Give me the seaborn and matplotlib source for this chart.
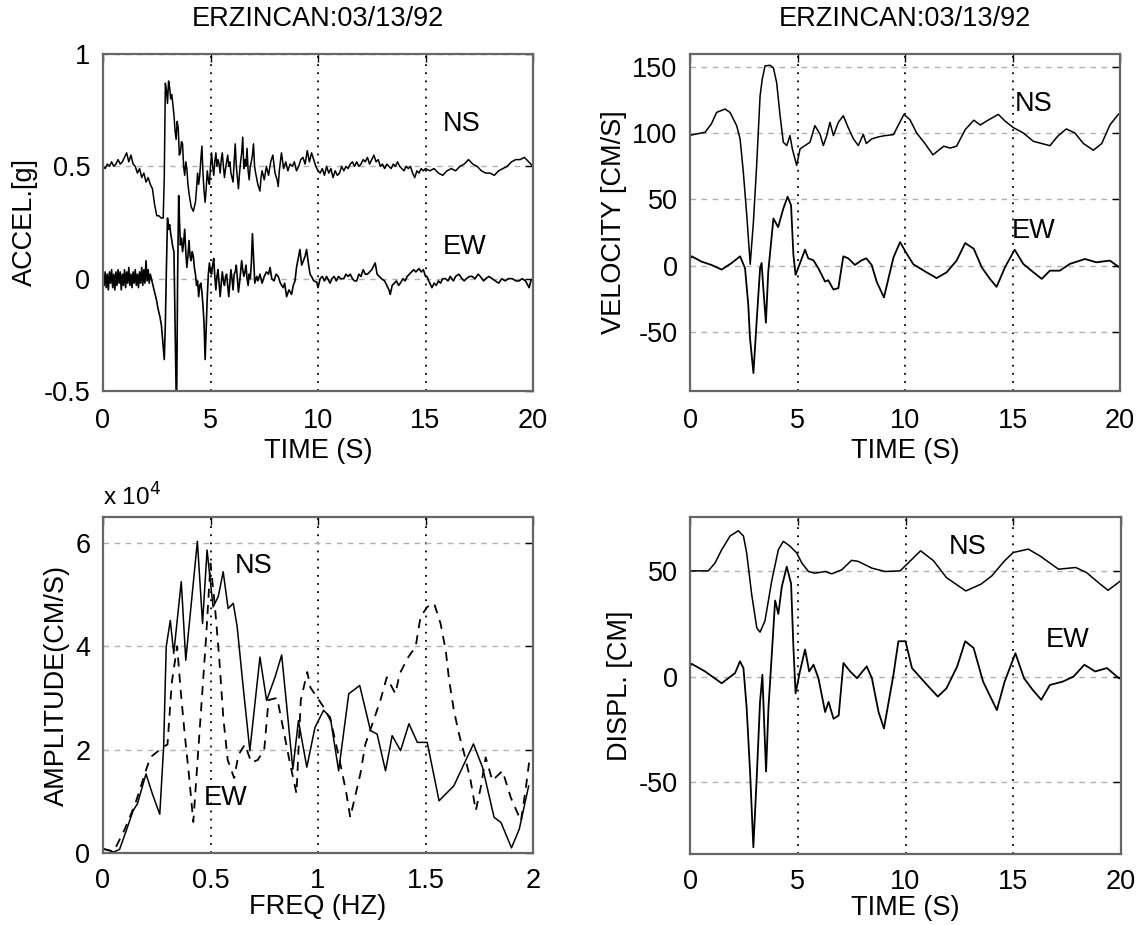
import numpy as np
import pandas as pd
import matplotlib
matplotlib.use("Agg")
import matplotlib.pyplot as plt
import seaborn as sns

# ---------------- data ----------------
title_text = "ERZINCAN:03/13/92"

# Acceleration (g) ; NS trace plotted with +0.5 offset
acc_ns_t = [0.0,0.1,0.2,0.3,0.4,0.5,0.6,0.7,0.8,0.9,1.0,1.1,1.2,1.3,1.4,1.5,1.6,1.7,1.8,1.9,2.0,2.1,2.2,2.3,2.4,2.5,2.6,2.7,2.8,
            2.85,2.9,2.95,3.0,3.05,3.1,3.15,3.2,3.3,3.35,3.4,3.45,3.5,3.55,3.6,3.65,3.7,3.75,3.8,3.85,3.9,3.95,4.0,4.1,4.2,4.3,4.35,4.4,4.45,4.5,4.55,4.6,4.65,4.7,4.75,4.8,4.85,4.9,4.95,
            5.0,5.05,5.1,5.15,5.2,5.25,5.3,5.35,5.4,5.45,5.5,5.55,5.6,5.65,5.7,5.75,5.8,5.85,5.9,5.95,6.0,6.05,6.1,6.15,6.2,6.25,6.3,6.35,6.4,6.45,6.5,6.55,6.6,6.65,6.7,6.75,6.8,6.85,6.9,6.95,
            7.0,7.05,7.1,7.2,7.3,7.35,7.4,7.5,7.6,7.7,7.8,7.9,8.0,8.1,8.15,8.2,8.3,8.4,8.5,8.6,8.7,8.8,8.9,9.0,9.1,9.2,9.3,9.4,9.5,9.6,9.7,9.8,9.9,
            10.0,10.1,10.2,10.3,10.4,10.5,10.6,10.7,10.8,10.9,11.0,11.1,11.2,11.3,11.4,11.5,11.6,11.7,11.8,11.9,12.0,12.1,12.2,12.3,12.4,12.5,12.6,12.7,12.8,12.9,
            13.0,13.1,13.2,13.3,13.4,13.5,13.6,13.7,13.8,13.9,14.0,14.1,14.2,14.3,14.4,14.5,14.6,14.7,14.8,14.9,15.0,15.2,15.4,15.6,15.8,16.0,16.2,16.4,16.6,16.8,
            17.0,17.2,17.4,17.6,17.8,18.0,18.2,18.4,18.6,18.8,19.0,19.2,19.4,19.6,19.8,20.0]
acc_ns_v = [0.50,0.49,0.51,0.50,0.52,0.50,0.51,0.53,0.51,0.52,0.54,0.56,0.52,0.55,0.51,0.50,0.47,0.49,0.45,0.47,0.43,0.45,0.42,0.40,0.33,0.28,0.28,0.27,0.27,
            0.45,0.87,0.84,0.78,0.88,0.85,0.80,0.82,0.73,0.66,0.62,0.70,0.67,0.55,0.56,0.61,0.60,0.50,0.46,0.52,0.49,0.42,0.38,0.32,0.30,0.34,0.40,0.47,0.42,0.46,0.53,0.59,0.47,0.39,0.34,0.40,0.48,0.44,0.42,
            0.50,0.56,0.50,0.46,0.52,0.56,0.50,0.53,0.51,0.47,0.53,0.56,0.50,0.45,0.49,0.52,0.55,0.50,0.52,0.47,0.45,0.43,0.52,0.60,0.50,0.45,0.40,0.47,0.52,0.56,0.63,0.49,0.53,0.50,0.58,0.48,0.44,0.50,0.52,0.55,
            0.60,0.50,0.47,0.42,0.39,0.45,0.48,0.44,0.50,0.46,0.52,0.55,0.47,0.44,0.41,0.48,0.56,0.49,0.52,0.48,0.51,0.50,0.52,0.48,0.50,0.53,0.54,0.51,0.57,0.52,0.56,0.53,0.50,
            0.48,0.47,0.49,0.46,0.50,0.47,0.49,0.45,0.48,0.46,0.47,0.50,0.48,0.50,0.49,0.51,0.52,0.50,0.52,0.50,0.51,0.53,0.52,0.54,0.51,0.53,0.55,0.52,0.53,0.50,
            0.51,0.49,0.51,0.50,0.49,0.51,0.50,0.52,0.50,0.49,0.48,0.50,0.49,0.50,0.47,0.45,0.48,0.47,0.49,0.48,0.49,0.48,0.49,0.47,0.46,0.48,0.49,0.48,0.50,0.51,
            0.53,0.51,0.50,0.48,0.47,0.47,0.46,0.48,0.49,0.50,0.52,0.53,0.53,0.54,0.52,0.50]

acc_ew_t = [0.0,0.05,0.1,0.15,0.2,0.25,0.3,0.35,0.4,0.45,0.5,0.55,0.6,0.65,0.7,0.75,0.8,0.85,0.9,0.95,1.0,1.05,1.1,1.15,1.2,1.25,1.3,1.35,1.4,1.45,1.5,1.55,1.6,1.65,1.7,1.75,1.8,1.85,1.9,1.95,2.0,2.05,2.1,2.15,2.2,
            2.3,2.4,2.5,2.55,2.6,2.65,2.72,2.8,2.85,2.9,2.95,3.0,3.05,3.1,3.15,3.2,3.25,3.3,3.35,3.42,3.47,3.52,3.56,3.6,3.65,3.7,3.75,3.8,3.85,3.9,3.95,4.0,4.05,4.1,4.15,4.2,4.25,4.3,4.35,4.4,4.45,4.5,4.55,4.6,4.65,4.7,4.75,4.8,4.85,4.9,4.95,
            5.0,5.05,5.1,5.15,5.2,5.25,5.3,5.35,5.4,5.45,5.5,5.55,5.6,5.65,5.7,5.75,5.8,5.85,5.9,5.95,6.0,6.05,6.1,6.15,6.2,6.25,6.3,6.35,6.4,6.45,6.5,6.55,6.6,6.65,6.7,6.75,6.8,6.85,6.9,6.95,
            7.0,7.06,7.15,7.2,7.3,7.4,7.5,7.6,7.7,7.77,7.85,7.95,8.05,8.15,8.25,8.38,8.45,8.54,8.65,8.77,8.85,8.93,9.0,9.08,9.16,9.24,9.32,9.4,9.47,9.55,9.63,9.7,9.8,9.94,
            10.0,10.1,10.2,10.3,10.4,10.56,10.65,10.75,10.85,10.95,11.05,11.2,11.3,11.4,11.5,11.6,11.7,11.8,11.9,12.0,12.1,12.2,12.3,12.4,12.5,12.66,12.75,12.85,12.95,
            13.1,13.2,13.3,13.36,13.45,13.55,13.65,13.75,13.83,13.95,14.05,14.15,14.25,14.35,14.45,14.55,14.7,14.8,14.9,15.0,15.07,15.15,15.3,15.4,15.5,15.6,15.7,15.8,15.93,
            16.05,16.15,16.3,16.4,16.55,16.7,16.8,16.9,17.05,17.17,17.3,17.45,17.55,17.7,17.8,17.95,18.1,18.25,18.4,18.55,18.7,18.85,19.04,19.2,19.35,19.5,19.65,19.82,19.9,20.0]
acc_ew_v = [0.00,-0.03,0.03,-0.04,0.02,-0.05,0.03,-0.02,0.04,-0.04,0.02,-0.05,0.03,-0.03,0.04,-0.02,0.03,-0.05,0.02,-0.03,0.04,-0.04,0.03,-0.02,0.05,-0.03,0.02,-0.04,0.03,-0.02,0.04,-0.03,0.02,-0.04,0.03,-0.02,0.05,-0.03,0.04,-0.02,0.08,-0.01,0.04,-0.02,0.02,
            -0.02,-0.06,-0.10,-0.13,-0.15,-0.17,-0.21,-0.30,-0.36,-0.20,0.05,0.27,0.22,0.24,0.20,0.17,0.14,0.12,-0.20,-0.62,0.00,0.37,0.25,0.15,0.18,0.12,0.16,0.22,0.12,0.05,0.10,0.17,0.10,0.08,0.12,0.10,0.05,0.02,-0.03,-0.01,-0.08,-0.03,-0.02,-0.06,-0.12,-0.20,-0.36,-0.22,-0.08,0.02,0.07,
            0.03,0.02,0.06,0.09,0.01,-0.05,0.01,0.04,-0.02,-0.08,-0.02,0.03,-0.01,-0.03,0.01,0.02,-0.03,-0.08,-0.02,0.04,0.00,-0.05,0.02,0.03,0.06,0.00,-0.06,-0.02,0.03,0.08,0.04,0.01,0.03,0.06,0.00,-0.03,0.02,0.00,0.07,0.20,
            0.10,-0.02,0.01,-0.01,0.02,-0.02,0.01,0.03,0.02,0.05,0.00,-0.01,0.02,0.01,-0.02,-0.04,-0.02,-0.08,-0.05,-0.07,-0.03,-0.01,0.05,0.09,0.13,0.06,0.08,0.10,0.13,0.07,0.02,0.01,-0.01,-0.015,
            -0.04,0.00,0.01,-0.01,0.01,-0.02,0.00,0.01,-0.01,0.01,0.00,0.00,0.02,0.01,0.02,0.00,-0.01,-0.01,0.02,0.01,0.04,0.02,0.02,0.03,0.04,0.07,0.02,0.01,0.00,
            -0.01,-0.03,-0.05,-0.07,-0.03,-0.02,-0.01,-0.03,-0.02,0.00,-0.01,0.01,0.02,0.03,0.04,0.03,0.045,0.03,0.04,0.01,0.01,-0.01,-0.04,-0.02,-0.03,-0.01,-0.02,0.00,0.00,
            -0.01,0.01,-0.01,0.01,0.02,0.00,-0.01,0.00,0.01,0.01,0.00,0.02,0.01,-0.01,0.00,0.01,0.00,-0.01,-0.02,0.00,-0.01,0.00,0.00,-0.01,-0.01,0.00,-0.01,-0.04,-0.01,0.00]

# Velocity (cm/s) ; NS plotted with +100 offset
vel_ns_t = [0.0,0.08,0.7,1.0,1.24,1.63,1.86,2.17,2.33,2.48,2.64,2.8,2.95,3.1,3.26,3.36,3.49,3.72,3.88,4.03,4.19,4.34,4.5,4.65,4.76,4.96,5.12,5.35,5.58,5.81,6.05,6.2,6.36,6.51,6.67,6.9,7.13,7.36,7.6,7.83,8.06,8.2,8.45,8.76,9.07,
            9.46,9.95,10.23,10.54,10.93,11.3,11.8,12.1,12.4,12.8,13.2,13.5,13.8,14.34,14.65,15.04,15.5,15.97,16.74,17.1,17.5,17.9,18.3,18.76,19.15,19.53,19.92,20.0]
vel_ns_v = [98,98.5,100.5,107,115.5,118,115.5,105.5,95.5,70.5,38,1,33,75.5,128,140.5,150.5,151,149,138,113,93,90.5,98,88,75.5,88,90.5,93,105.5,99,90.5,98,108,98,108,113,104,95.5,90.5,99,92,95.5,97,98,
            98.7,114,110,100,92,83.5,90,88.6,90,102.5,109.6,106,109,114,109,104,100,93.7,90.4,97.5,103,100,92,87,92,106,114,115]
vel_ew_t = [0.0,0.08,0.54,1.0,1.47,1.94,2.33,2.56,2.71,2.79,2.95,3.1,3.26,3.33,3.41,3.53,3.64,3.88,4.1,4.34,4.54,4.7,4.81,4.91,5.12,5.35,5.5,5.74,5.97,6.28,6.43,6.67,6.9,7.13,7.36,7.67,7.98,8.2,8.45,8.68,9.02,
            9.46,9.77,10.08,10.39,11.0,11.47,11.94,12.4,12.8,13.2,13.57,13.95,14.26,14.65,15.1,15.5,15.97,16.36,16.74,17.2,17.67,18.37,18.9,19.53,19.97]
vel_ew_v = [5,7,3,0.5,-3,2,7,-2,-29.5,-54.5,-81,-42,-2,2,-17,-43,-4.5,35.5,29,43,52,45.5,8,-7,2,12,5.5,4,-2,-12,-11,-18,-17,7,5.5,0.5,4,5.5,0.5,-12,-24,
            6,17.7,9,1,-5,-9.4,-5,3.8,17,12.7,-1.3,-10,-16,-1.3,12,1.3,-5,-10,-3.8,-3.8,1.3,5,2.5,3.8,-1.3]

# Fourier amplitude (x 10^4 cm/s)
amp_ns_f = [0.0,0.02,0.05,0.077,0.108,0.14,0.16,0.2,0.23,0.264,0.282,0.294,0.313,0.329,0.364,0.385,0.406,0.439,0.463,0.484,0.512,0.536,0.559,0.582,0.606,0.624,0.652,0.683,0.73,0.761,0.8,0.831,0.855,0.883,0.909,0.948,
            0.986,1.026,1.057,1.096,1.143,1.194,1.244,1.275,1.314,1.345,1.384,1.423,1.462,1.508,1.563,1.632,1.679,1.723,1.765,1.819,1.851,1.9,1.936,1.98]
amp_ns_a = [0.08,0.06,0.02,0.07,0.43,0.82,0.95,1.53,1.14,0.75,2.05,3.99,4.5,3.86,5.25,3.73,4.63,6.03,4.44,5.86,4.76,4.96,5.44,4.73,4.83,4.38,3.21,1.98,3.79,2.95,3.4,3.83,2.82,1.62,2.56,1.66,
            2.43,2.76,2.63,1.59,3.08,3.24,2.37,2.3,1.59,2.27,1.98,2.5,2.14,2.14,1.01,1.3,1.72,2.11,1.66,0.69,0.59,0.1,0.46,1.3]
amp_ew_f = [0.0,0.05,0.1,0.15,0.2,0.22,0.25,0.28,0.3,0.32,0.345,0.36,0.38,0.4,0.42,0.44,0.46,0.48,0.5,0.52,0.54,0.56,0.58,0.61,0.63,0.66,0.69,0.72,0.75,0.77,0.81,0.87,0.90,0.92,0.95,0.965,1.03,1.06,1.1,1.13,1.15,
            1.197,1.22,1.29,1.32,1.36,1.38,1.42,1.454,1.477,1.508,1.54,1.57,1.594,1.61,1.632,1.656,1.68,1.71,1.734,1.757,1.78,1.811,1.858,1.897,1.944,1.967,1.983]
amp_ew_a = [0.08,0.03,0.45,0.95,1.6,1.85,1.95,2.05,2.1,3.3,4.0,3.2,2.3,1.5,0.6,1.8,3.0,4.2,5.6,4.8,3.8,2.6,1.8,1.45,1.9,2.1,1.75,1.8,2.0,2.96,3.0,1.73,1.15,2.96,3.5,3.2,2.8,2.55,1.8,1.2,0.69,
            1.53,2.1,2.95,3.4,3.08,3.47,3.79,3.99,4.57,4.76,4.83,4.44,3.92,3.34,2.76,2.3,1.92,1.4,0.82,1.27,1.85,1.4,1.59,1.07,0.62,1.27,1.79]

# Displacement (cm) ; NS plotted with +50 offset
dis_ns_t = [0.0,0.08,0.85,1.16,1.47,1.86,2.24,2.48,2.63,2.86,3.1,3.25,3.48,3.8,4.1,4.33,4.64,4.95,5.19,5.5,5.8,6.27,6.58,7.04,7.5,7.8,8.44,9.05,
            9.75,10.7,11.3,11.9,12.8,13.5,14.0,14.6,15.0,15.7,16.25,17.1,17.9,18.4,19.04,19.4,19.97,20.0]
dis_ns_v = [50,50,50,53.7,60,66.5,69,66.5,58.5,39,23,21,26.4,45.7,60,64,61.7,58.5,53.7,49.7,48.9,49.7,48.6,50.5,55,54.5,51.3,49.7,
            50,59.5,54.8,46.8,40.5,43.7,47.6,54.8,58.7,60.3,57,50.8,51.6,49.2,43.7,40.8,45.2,46]
dis_ew_t = [0.0,0.08,0.7,1.47,2.09,2.32,2.48,2.63,2.79,2.94,3.1,3.25,3.36,3.44,3.53,3.64,3.95,4.1,4.26,4.49,4.69,4.8,4.9,5.1,5.34,5.53,5.73,5.96,6.27,6.43,6.66,6.9,7.12,7.43,7.75,8.2,8.44,8.75,9.0,
            9.44,9.67,10.0,10.3,11.0,11.5,11.9,12.4,12.77,13.16,13.6,14.24,14.6,15.1,15.5,15.9,16.3,16.7,17.3,17.8,18.3,18.8,19.35,19.9,20.0]
dis_ew_v = [5,6,2.4,-3.2,1.6,7.2,4,-15,-45.7,-80.8,-47,-12,0.8,-21.6,-45,-15,36,29.6,42.5,52,44,13.6,-8,2.4,12.8,2.4,5.6,-0.8,-16.8,-12,-20,-18.4,6.4,2.4,-0.8,4.8,-0.8,-16.8,-24.6,
            0.8,16.7,16.7,4,-4,-9.5,-5.6,4.8,16.7,13.5,-2.4,-15.9,-2.4,11,-0.8,-6.3,-11,-4,-2.4,0,5.6,2.4,4,-0.8,-1]

time_ticks = [0, 5, 10, 15, 20]
freq_ticks = [0, 0.5, 1, 1.5, 2]
freq_ticklabels = ["0", "0.5", "1", "1.5", "2"]
acc_ticks = [-0.5, 0, 0.5, 1]
acc_ticklabels = ["-0.5", "0", "0.5", "1"]
vel_ticks = [-50, 0, 50, 100, 150]
amp_ticks = [0, 2, 4, 6]
dis_ticks = [-50, 0, 50]

# ---------------- styling ----------------
sns.set_theme(style="white")
plt.rcParams["font.family"] = ["Liberation Sans", "DejaVu Sans"]
plt.rcParams["text.color"] = "black"
plt.rcParams["axes.labelcolor"] = "black"
plt.rcParams["xtick.color"] = "black"
plt.rcParams["ytick.color"] = "black"
FS = 19.5

W, H = 1145, 925
fig = plt.figure(figsize=(W / 100, H / 100), dpi=100)

def box(x0, y0, x1, y1):
    return [x0 / W, 1 - y1 / H, (x1 - x0) / W, (y1 - y0) / H]

ax_acc = fig.add_axes(box(103, 54, 533, 391))
ax_vel = fig.add_axes(box(690, 54, 1120, 391))
ax_amp = fig.add_axes(box(103, 517, 533, 853))
ax_dis = fig.add_axes(box(690, 517, 1121, 854))

def draw(ax, x, y, dashed=False, lw=1.1):
    df = pd.DataFrame({"x": x, "y": y})
    sns.lineplot(data=df, x="x", y="y", ax=ax, sort=False, estimator=None,
                 color="black", lw=lw, linestyle=(0, (5, 4)) if dashed else "-")

draw(ax_acc, acc_ns_t, acc_ns_v)
draw(ax_acc, acc_ew_t, acc_ew_v, lw=1.2)
draw(ax_vel, vel_ns_t, vel_ns_v)
draw(ax_vel, vel_ew_t, vel_ew_v, lw=1.3)
draw(ax_amp, amp_ns_f, amp_ns_a)
draw(ax_amp, amp_ew_f, amp_ew_a, dashed=True, lw=1.3)
draw(ax_dis, dis_ns_t, dis_ns_v)
draw(ax_dis, dis_ew_t, dis_ew_v, lw=1.3)

def style(ax, xlim, ylim, xt, xtl, yt, ytl, xlabel, ylabel, xpad_label=3, xpad_tick=12):
    ax.set_xlim(*xlim)
    ax.set_ylim(*ylim)
    ax.set_xticks(xt)
    ax.set_xticklabels(xtl)
    ax.set_yticks(yt)
    ax.set_yticklabels(ytl)
    ax.set_xlabel(xlabel, fontsize=FS, labelpad=xpad_label, color="black")
    ax.set_ylabel(ylabel, fontsize=FS, labelpad=4, color="black")
    ax.tick_params(direction="in", length=6, width=1, top=True, right=True,
                   labelsize=FS, colors="black")
    ax.tick_params(axis="x", pad=xpad_tick)
    ax.tick_params(axis="y", pad=9)
    ax.xaxis.grid(True, linestyle=(0, (1, 3.5)), color="black", lw=1.3)
    ax.yaxis.grid(True, linestyle=(0, (4, 4)), color="#b0b0b0", lw=1.0)
    ax.set_axisbelow(True)
    for s in ax.spines.values():
        s.set_visible(True)
        s.set_color("#666666")
        s.set_linewidth(1.6)

style(ax_acc, (0, 20), (-0.5, 1), time_ticks, [str(v) for v in time_ticks],
      acc_ticks, acc_ticklabels, "TIME (S)", "ACCEL.[g]")
style(ax_vel, (0, 20), (-94.5, 159.5), time_ticks, [str(v) for v in time_ticks],
      vel_ticks, [str(v) for v in vel_ticks], "TIME (S)", "VELOCITY [CM/S]")
style(ax_amp, (0, 2), (0, 6.5), freq_ticks, freq_ticklabels,
      amp_ticks, [str(v) for v in amp_ticks], "FREQ (HZ)", "AMPLITUDE(CM/S)",
      xpad_label=0, xpad_tick=11)
style(ax_dis, (0, 20), (-84, 75.5), time_ticks, [str(v) for v in time_ticks],
      dis_ticks, [str(v) for v in dis_ticks], "TIME (S)", "DISPL. [CM]",
      xpad_label=0, xpad_tick=11)

ax_acc.set_title(title_text, fontsize=FS, pad=20, color="black")
ax_vel.set_title(title_text, fontsize=FS, pad=20, color="black")

ax_amp.text(0.0, 1.02, r"x 10$^4$", transform=ax_amp.transAxes, fontsize=FS - 2,
            ha="left", va="bottom", color="black")

lab = dict(fontsize=FS, ha="center", va="center", color="black")
ax_acc.text(16.7, 0.69, "NS", **lab)
ax_acc.text(16.8, 0.14, "EW", **lab)
ax_vel.text(16.0, 121.5, "NS", **lab)
ax_vel.text(16.0, 26, "EW", **lab)
ax_amp.text(0.70, 5.55, "NS", **lab)
ax_amp.text(0.57, 1.07, "EW", **lab)
ax_dis.text(12.87, 61.5, "NS", **lab)
ax_dis.text(17.5, 17.3, "EW", **lab)

fig.savefig("out.png", dpi=100, facecolor="white")
